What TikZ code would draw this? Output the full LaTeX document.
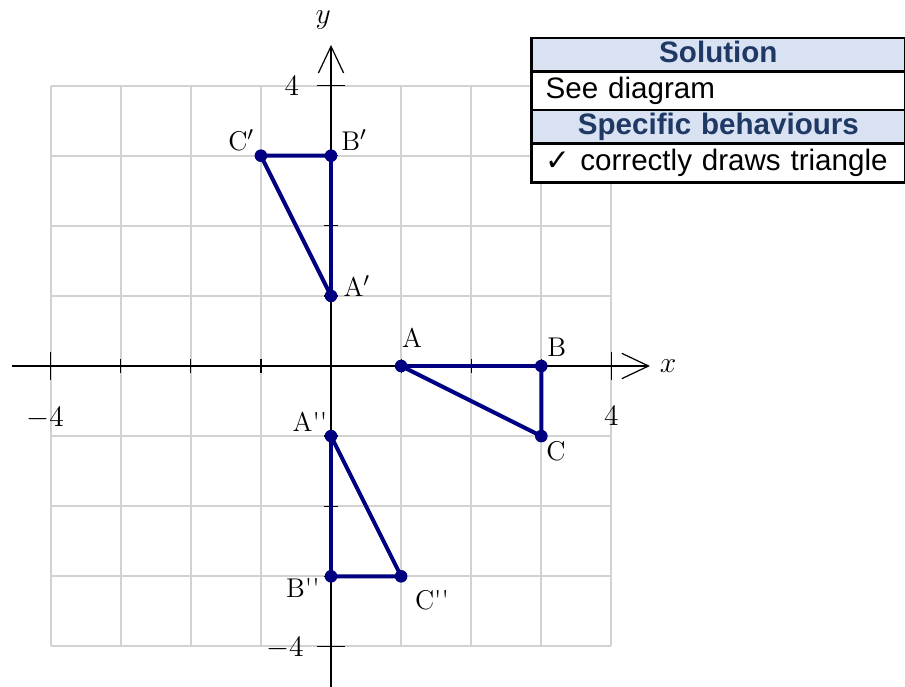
\documentclass[tikz,border=0pt]{standalone}
\usepackage{fontspec}
\newfontfamily\tablefont{Liberation Sans}
\newfontfamily\symfont{DejaVu Sans}
\usetikzlibrary{arrows.meta,positioning}
\definecolor{navytri}{RGB}{0,0,128}
\definecolor{hdrfill}{RGB}{217,226,243}
\definecolor{hdrtext}{RGB}{31,56,100}
\definecolor{gridgray}{RGB}{210,210,210}

\begin{document}
\begin{tikzpicture}[
  gridline/.style={gridgray, line width=0.8pt},
  axis/.style={black, line width=0.5pt, -{Straight Barb[length=3.8mm,width=3.6mm]}},
  tri/.style={navytri, line width=1.6pt, line join=round},
  dot/.style={circle, fill=navytri, inner sep=0pt, minimum size=1.8mm},
  ptlabel/.style={font=\fontsize{11}{13}\selectfont, inner sep=1pt},
  numlabel/.style={font=\fontsize{12.5}{14}\selectfont, inner sep=0pt},
  cell/.style={draw=black, line width=1pt, anchor=north west, outer sep=0pt,
    minimum width=5.325cm, text width=4.925cm, inner xsep=0.2cm, inner ysep=0pt,
    text height=8.6pt, text depth=2.4pt},
  hdr/.style={cell, fill=hdrfill, text=hdrtext, align=center,
    font=\tablefont\bfseries\fontsize{12}{12}\selectfont},
  row/.style={cell, fill=white, align=left, font=\tablefont\fontsize{12}{12}\selectfont}
]
\useasboundingbox (-4.722,-4.565) rectangle (8.188,5.221);

  % Grid
  \draw[gridline] (-4,-4) grid (4,4);

  % Axes
  \coordinate (xstart) at (-4.55,0);
  \coordinate (xend) at (4.55,0);
  \coordinate (ystart) at (0,-4.6);
  \coordinate (yend) at (0,4.58);
  \draw[axis] (xstart) -- (xend);
  \draw[axis] (ystart) -- (yend);
  \node[numlabel] (xlab) at (4.81,0) {$x$};
  \node[numlabel] (ylab) at (-0.11,4.93) {$y$};

  % Ticks
  \foreach \t in {-3,-2,-1,1,2,3} {
    \draw[line width=0.5pt] (\t,-0.095) -- (\t,0.095);
    \draw[line width=0.5pt] (-0.095,\t) -- (0.095,\t);
  }
  \foreach \t in {-4,4} {
    \draw[line width=0.5pt] (\t,-0.2) -- (\t,0.2);
    \draw[line width=0.5pt] (-0.2,\t) -- (0.2,\t);
  }
  \node[numlabel] (xneg) at (-4.08,-0.74) {$-4$};
  \node[numlabel] (xpos) at (4.0,-0.71) {$4$};
  \node[numlabel] (ypos) at (-0.56,4.0) {$4$};
  \node[numlabel] (yneg) at (-0.66,-4.02) {$-4$};

  % Triangle ABC
  \node[dot] (A) at (1,0) {};
  \node[dot] (B) at (3,0) {};
  \node[dot] (C) at (3,-1) {};
  \draw[tri] (A.center) -- (B.center) -- (C.center) -- cycle;

  % Triangle A'B'C'
  \node[dot] (A1) at (0,1) {};
  \node[dot] (B1) at (0,3) {};
  \node[dot] (C1) at (-1,3) {};
  \draw[tri] (A1.center) -- (B1.center) -- (C1.center) -- cycle;

  % Triangle A''B''C''
  \node[dot] (A2) at (0,-1) {};
  \node[dot] (B2) at (0,-3) {};
  \node[dot] (C2) at (1,-3) {};
  \draw[tri] (A2.center) -- (B2.center) -- (C2.center) -- cycle;

  % Vertex labels
  \node[ptlabel] (lA) at (1.155,0.40) {A};
  \node[ptlabel] (lB) at (3.22,0.27) {B};
  \node[ptlabel] (lC) at (3.21,-1.21) {C};
  \node[ptlabel] (lA1) at (0.37,1.14) {A$'$};
  \node[ptlabel] (lB1) at (0.33,3.22) {B$'$};
  \node[ptlabel] (lC1) at (-1.28,3.22) {C$'$};
  \node[ptlabel] (lA2) at (-0.30,-0.80) {A\textquotesingle\textquotesingle};
  \node[ptlabel] (lB2) at (-0.40,-3.17) {B\textquotesingle\textquotesingle};
  \node[ptlabel] (lC2) at (1.44,-3.34) {C\textquotesingle\textquotesingle};

  % Marking table
  \node[hdr, minimum height=0.481cm] (sol) at (2.863,4.679) {Solution};
  \node[row, minimum height=0.546cm] (see) at (sol.south west) {See diagram};
  \node[hdr, minimum height=0.475cm] (spec) at (see.south west) {Specific behaviours};
  \node[row, minimum height=0.562cm] (beh) at (spec.south west)
    {{\symfont ✓} correctly draws triangle};

\end{tikzpicture}
\end{document}
